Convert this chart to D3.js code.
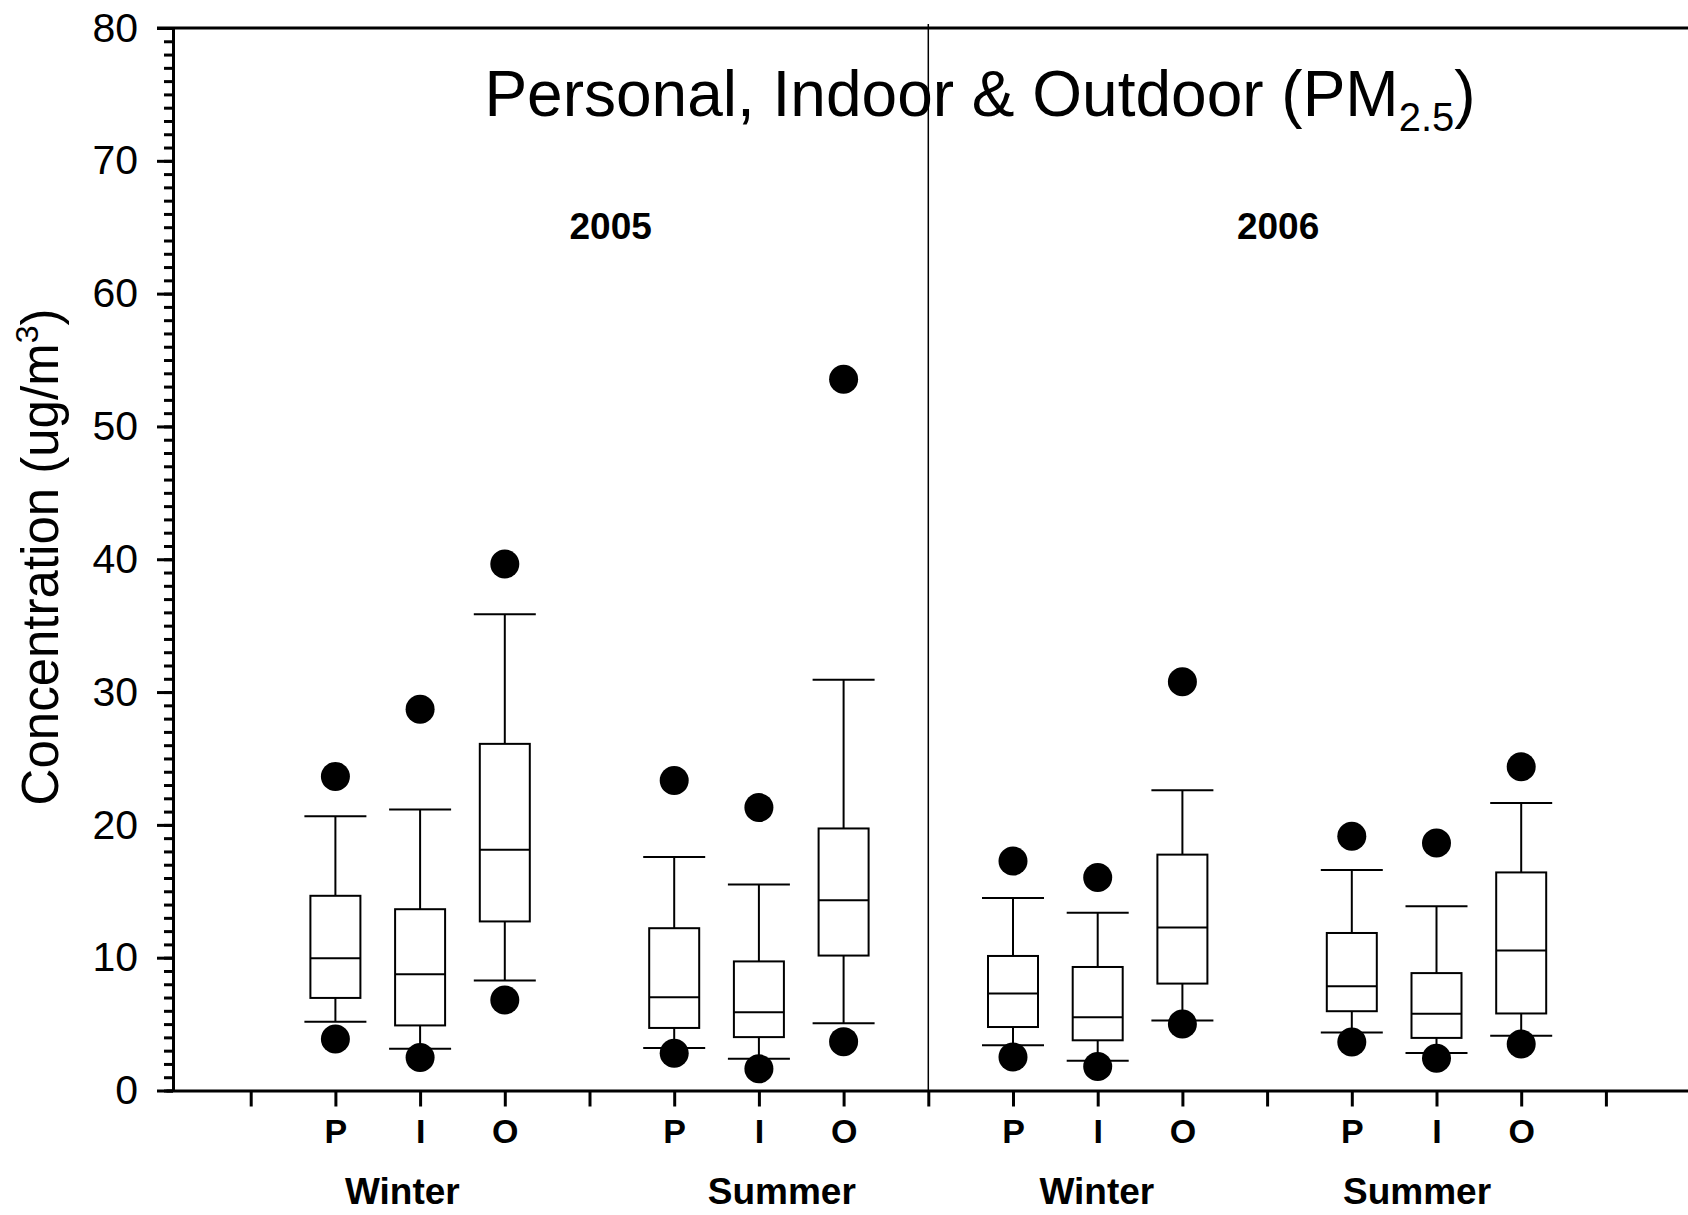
<!DOCTYPE html>
<html>
<head>
<meta charset="utf-8">
<script src="https://cdn.jsdelivr.net/npm/d3@7"></script>
<style>
  body { margin: 0; background: #fff; }
  svg { display: block; font-family: "Liberation Sans", Arial, sans-serif; }
</style>
</head>
<body>
<div id="chart"></div>
<script>
// one box per site, in order: 2005 Winter, 2005 Summer, 2006 Winter, 2006 Summer
var sites = ["P", "I", "O"];
var seasons = ["Winter", "Summer", "Winter", "Summer"];
var years = ["2005", "2006"];

var whiskerLow  = [5.18, 3.15, 8.28, 3.2, 2.4, 5.06, 3.4, 2.24, 5.27, 4.36, 2.83, 4.12];
var q1          = [6.97, 4.9, 12.73, 4.71, 4.02, 10.16, 4.78, 3.78, 8.05, 5.97, 3.96, 5.8];
var median      = [9.95, 8.75, 18.12, 7.03, 5.9, 14.32, 7.3, 5.52, 12.28, 7.85, 5.77, 10.55];
var q3          = [14.66, 13.65, 26.1, 12.22, 9.72, 19.73, 10.13, 9.3, 17.76, 11.86, 8.84, 16.42];
var whiskerHigh = [20.65, 21.15, 35.86, 17.58, 15.52, 30.92, 14.5, 13.38, 22.6, 16.6, 13.88, 21.65];
var outlierLow  = [3.87, 2.48, 6.82, 2.81, 1.63, 3.68, 2.53, 1.8, 5.0, 3.65, 2.43, 3.5];
var outlierHigh = [23.65, 28.7, 39.65, 23.35, 21.3, 53.55, 17.28, 16.03, 30.78, 19.15, 18.63, 24.38];

var width = 1688, height = 1215;

var svg = d3.select("#chart").append("svg")
    .attr("width", width)
    .attr("height", height);

var x = d3.scaleLinear().domain([0, 18]).range([166, 166 + 18 * 84.7]);
var y = d3.scaleLinear().domain([0, 80]).range([1090.5, 28]);
var axisX = 173;

// box slot: 3 sites per season, one empty slot between seasons
function slot(i) {
    return 2 + Math.floor(i / 3) * 4 + (i % 3);
}

var boxes = whiskerLow.map(function (d, i) {
    return {
        pos: slot(i),
        lo: d, q1: q1[i], med: median[i], q3: q3[i], hi: whiskerHigh[i],
        oLo: outlierLow[i], oHi: outlierHigh[i]
    };
});

// top border and year divider
svg.append("line")
    .attr("x1", 157).attr("x2", width)
    .attr("y1", y(80)).attr("y2", y(80))
    .attr("stroke", "#000").attr("stroke-width", 3);

svg.append("line")
    .attr("x1", x(9)).attr("x2", x(9))
    .attr("y1", 24).attr("y2", y(0))
    .attr("stroke", "#000").attr("stroke-width", 1.5);

// y axis: minor ticks every unit, major every 10
var yMinor = svg.append("g")
    .attr("transform", "translate(" + axisX + ",0)")
    .call(d3.axisLeft(y).tickValues(d3.range(0, 81, 1)).tickSize(9).tickFormat(""));
yMinor.select(".domain").remove();
yMinor.selectAll("line").attr("stroke-width", 3);

var yMajor = svg.append("g")
    .attr("transform", "translate(" + axisX + ",0)")
    .call(d3.axisLeft(y).tickValues(d3.range(0, 81, 10)).tickSize(16).tickSizeOuter(0).tickPadding(19));
yMajor.select(".domain").attr("stroke-width", 3);
yMajor.selectAll("line").attr("stroke-width", 3);
yMajor.selectAll("text")
    .attr("font-family", "Liberation Sans, Arial, sans-serif")
    .attr("font-size", 41)
    .attr("fill", "#000");

// x axis
var xAxis = svg.append("g")
    .attr("transform", "translate(0," + y(0) + ")")
    .call(d3.axisBottom(x)
        .tickValues(d3.range(1, 18))
        .tickSize(16)
        .tickSizeOuter(0)
        .tickPadding(12)
        .tickFormat(function (d) {
            var k = d - 2 - Math.floor((d - 2) / 4) * 4;
            return (d >= 2 && k < 3) ? sites[k] : "";
        }));
xAxis.select(".domain").attr("stroke-width", 3);
xAxis.selectAll("line").attr("stroke-width", 3);
xAxis.selectAll("text")
    .attr("font-family", "Liberation Sans, Arial, sans-serif")
    .attr("font-size", 34)
    .attr("font-weight", "bold")
    .attr("fill", "#000");

// season and year labels
var seasonAt = [2.79, 7.27, 10.99, 14.77];
svg.selectAll(".season")
    .data(seasons)
    .enter().append("text")
    .attr("class", "season")
    .attr("x", function (d, i) { return x(seasonAt[i]); })
    .attr("y", 1204)
    .attr("text-anchor", "middle")
    .attr("font-size", 37)
    .attr("font-weight", "bold")
    .text(function (d) { return d; });

var yearAt = [5.25, 13.13];
svg.selectAll(".year")
    .data(years)
    .enter().append("text")
    .attr("class", "year")
    .attr("x", function (d, i) { return x(yearAt[i]); })
    .attr("y", 239)
    .attr("text-anchor", "middle")
    .attr("font-size", 37)
    .attr("font-weight", "bold")
    .text(function (d) { return d; });

// boxes
var boxW = 50, capW = 62, r = 14.5;
var g = svg.selectAll(".box")
    .data(boxes)
    .enter().append("g")
    .attr("class", "box")
    .attr("transform", function (d) { return "translate(" + x(d.pos) + ",0)"; });

g.append("line")
    .attr("y1", function (d) { return y(d.hi); })
    .attr("y2", function (d) { return y(d.q3); })
    .attr("stroke", "#000").attr("stroke-width", 2);
g.append("line")
    .attr("y1", function (d) { return y(d.q1); })
    .attr("y2", function (d) { return y(d.lo); })
    .attr("stroke", "#000").attr("stroke-width", 2);
g.append("line")
    .attr("x1", -capW / 2).attr("x2", capW / 2)
    .attr("y1", function (d) { return y(d.hi); })
    .attr("y2", function (d) { return y(d.hi); })
    .attr("stroke", "#000").attr("stroke-width", 2);
g.append("line")
    .attr("x1", -capW / 2).attr("x2", capW / 2)
    .attr("y1", function (d) { return y(d.lo); })
    .attr("y2", function (d) { return y(d.lo); })
    .attr("stroke", "#000").attr("stroke-width", 2);
g.append("rect")
    .attr("x", -boxW / 2)
    .attr("width", boxW)
    .attr("y", function (d) { return y(d.q3); })
    .attr("height", function (d) { return y(d.q1) - y(d.q3); })
    .attr("fill", "#fff")
    .attr("stroke", "#000").attr("stroke-width", 2);
g.append("line")
    .attr("x1", -boxW / 2).attr("x2", boxW / 2)
    .attr("y1", function (d) { return y(d.med); })
    .attr("y2", function (d) { return y(d.med); })
    .attr("stroke", "#000").attr("stroke-width", 2);
g.append("circle")
    .attr("r", r)
    .attr("cy", function (d) { return y(d.oHi); })
    .attr("fill", "#000");
g.append("circle")
    .attr("r", r)
    .attr("cy", function (d) { return y(d.oLo); })
    .attr("fill", "#000");

// title
var title = svg.append("text")
    .attr("x", 980)
    .attr("y", 116)
    .attr("text-anchor", "middle")
    .attr("font-size", 64);
title.append("tspan").text("Personal, Indoor & Outdoor (PM");
title.append("tspan").attr("font-size", 40).attr("dy", 15).text("2.5");
title.append("tspan").attr("dy", -15).text(")");

// y axis title
var ylab = svg.append("text")
    .attr("transform", "translate(58,557) rotate(-90)")
    .attr("text-anchor", "middle")
    .attr("font-size", 51);
ylab.append("tspan").text("Concentration (ug/m");
ylab.append("tspan").attr("font-size", 32).attr("dy", -20).text("3");
ylab.append("tspan").attr("dy", 20).text(")");
</script>
</body>
</html>
